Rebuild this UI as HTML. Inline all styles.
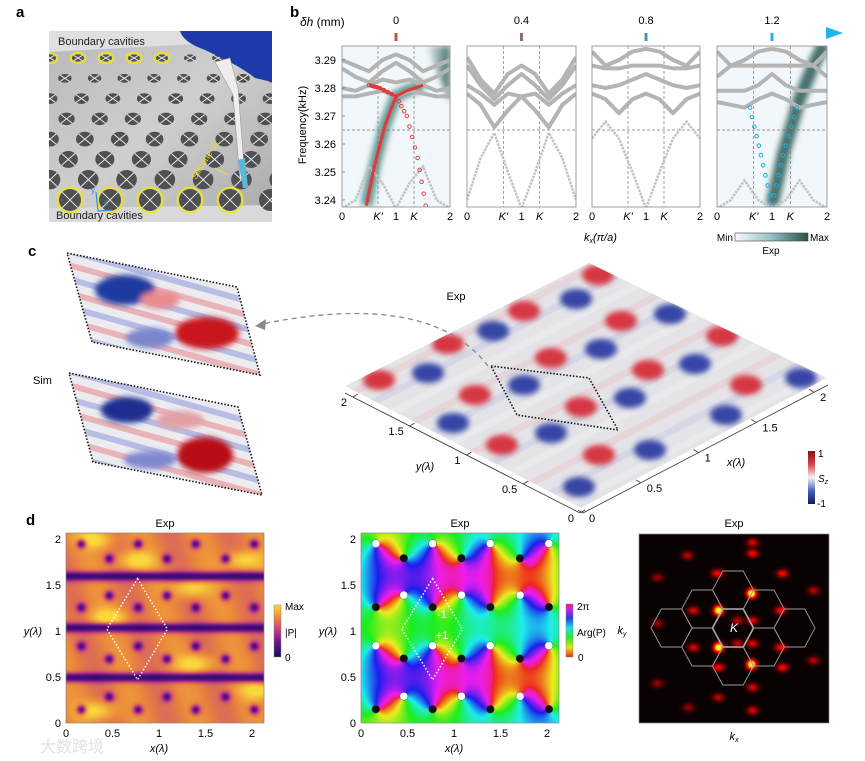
<!DOCTYPE html>
<html><head><meta charset="utf-8"><style>
html,body{margin:0;padding:0;background:#fff;}
#root{position:relative;width:865px;height:761px;overflow:hidden;font-family:"Liberation Sans",Arial,sans-serif;}
canvas{position:absolute;}
svg{position:absolute;left:0;top:0;}
text{font-family:"Liberation Sans",Arial,sans-serif;}
</style></head><body>
<div id="root">
<canvas id="cvAmp" width="198" height="190" style="left:66px;top:533px"></canvas>
<canvas id="cvArg" width="198" height="190" style="left:361px;top:533px"></canvas>
<canvas id="cvFt" width="190" height="189" style="left:639px;top:534px"></canvas>
<svg id="svg" width="865" height="761" xmlns="http://www.w3.org/2000/svg">
<defs>
<filter id="blur3" x="-50%" y="-50%" width="200%" height="200%"><feGaussianBlur stdDeviation="3"/></filter>
<filter id="blur5" x="-50%" y="-50%" width="200%" height="200%"><feGaussianBlur stdDeviation="5"/></filter>
<clipPath id="photoClip"><rect x="49" y="31" width="223" height="191"/></clipPath>
<clipPath id="surfClip"><polygon points="345,386 589,263 827,378 581,508"/></clipPath>
<clipPath id="simA"><polygon points="67,253 237,287 260,375 92,342"/></clipPath>
<clipPath id="simB"><polygon points="69,373 238,407 262,495 93,462"/></clipPath>
<linearGradient id="dhGrad" x1="0" x2="1" y1="0" y2="0"><stop offset="0" stop-color="#dc4b4b"/><stop offset="0.4" stop-color="#8a6a86"/><stop offset="0.7" stop-color="#4e8fb3"/><stop offset="1" stop-color="#1fb4ea"/></linearGradient>
<linearGradient id="expGrad" x1="0" x2="1"><stop offset="0" stop-color="#f6fbfd"/><stop offset="0.5" stop-color="#8fc3c3"/><stop offset="1" stop-color="#2c4e4a"/></linearGradient>
<linearGradient id="szGrad" x1="0" x2="0" y1="0" y2="1"><stop offset="0" stop-color="#8e0c16"/><stop offset="0.25" stop-color="#d8424a"/><stop offset="0.5" stop-color="#f4f4f4"/><stop offset="0.75" stop-color="#4a62b8"/><stop offset="1" stop-color="#0e1b5c"/></linearGradient>
<linearGradient id="ampGrad" x1="0" x2="0" y1="1" y2="0"><stop offset="0" stop-color="#140a5a"/><stop offset="0.3" stop-color="#6e148c"/><stop offset="0.55" stop-color="#c84678"/><stop offset="0.75" stop-color="#eb873c"/><stop offset="1" stop-color="#fad73c"/></linearGradient>
<linearGradient id="argGrad" x1="0" x2="0" y1="1" y2="0"><stop offset="0" stop-color="#e8281e"/><stop offset="0.18" stop-color="#e8e21e"/><stop offset="0.36" stop-color="#2ee81e"/><stop offset="0.55" stop-color="#1ee0e8"/><stop offset="0.73" stop-color="#1e40e8"/><stop offset="0.9" stop-color="#d21ee8"/><stop offset="1" stop-color="#e81e6a"/></linearGradient>
<linearGradient id="tealCorner" x1="0" x2="1" y1="0" y2="0"><stop offset="0" stop-color="#2f5e5a" stop-opacity="0"/><stop offset="1" stop-color="#2f5e5a" stop-opacity="0.9"/></linearGradient>
<linearGradient id="plateGrad" x1="0" x2="1" y1="0" y2="1"><stop offset="0" stop-color="#b8b8ba"/><stop offset="0.5" stop-color="#cfcfd0"/><stop offset="1" stop-color="#a9a9ab"/></linearGradient>
</defs>

<text x="16" y="17" font-size="15" font-weight="bold">a</text>
<text x="290" y="17" font-size="15" font-weight="bold">b</text>
<text x="28" y="256" font-size="15" font-weight="bold">c</text>
<text x="26" y="525" font-size="15" font-weight="bold">d</text>

<g id="photo" clip-path="url(#photoClip)">
<rect x="49" y="31" width="223" height="191" fill="url(#plateGrad)"/>
<polygon points="49,31 272,31 272,40 49,52" fill="#dedfe0"/>
<polygon points="49,208 272,205 272,222 49,222" fill="#d9d9da"/>
<g id="holes"></g>
<path d="M180,31 L272,31 L272,82 L255,78 C240,66 222,58 205,50 C192,45 183,40 180,31Z" fill="#1d3aa8"/>
<polygon points="215,62 230,58 238,88 245,178 240,180 233,95" fill="#eeeeee" stroke="#999" stroke-width="0.6"/>
<polygon points="238,160 245,158 248,188 243,188" fill="#58b8d8"/>
</g>
<text x="58" y="45" font-size="11" fill="#222">Boundary cavities</text>
<text x="56" y="219" font-size="11" fill="#222">Boundary cavities</text>
<text x="196" y="180" font-size="9" fill="#f0e020" transform="rotate(-58 196 180)">Silicone oil</text>
<line x1="215" y1="168" x2="228" y2="175" stroke="#f0e020" stroke-width="1"/>
<g stroke="#2a8ee8" stroke-width="1.2" fill="#2a8ee8">
<line x1="98" y1="211" x2="96" y2="192"/><line x1="98" y1="211" x2="112" y2="210"/>
<text x="91" y="193" font-size="8" stroke="none">y</text><text x="104" y="205" font-size="8" stroke="none">x</text>
</g>

<g id="panelB">
<line x1="345" y1="33" x2="828" y2="33" stroke="url(#dhGrad)" stroke-width="3"/>
<polygon points="826,27 843,33 826,39" fill="#1fb4ea"/>
<text x="300" y="26" font-size="12"><tspan font-style="italic">δh</tspan> (mm)</text>
<g id="bPlots"></g>
<text x="306" y="125" font-size="11" text-anchor="middle" transform="rotate(-90 306 125)">Frequency(kHz)</text>
<text x="584" y="241" font-size="11" font-style="italic">k<tspan font-size="7" dy="2">x</tspan><tspan dy="-2">(π/a)</tspan></text>
<text x="733" y="241" font-size="10" text-anchor="end">Min</text>
<rect x="735" y="233" width="73" height="8" fill="url(#expGrad)" stroke="#444" stroke-width="0.6"/>
<text x="810" y="241" font-size="10">Max</text>
<text x="771" y="254" font-size="10" text-anchor="middle">Exp</text>
</g>

<g id="panelC">
<g clip-path="url(#surfClip)">
<polygon points="345,386 589,263 827,378 581,508" fill="#e4e4e8"/>
<g id="surfStripes" opacity="0.55"></g>
<g id="surfBlobs" filter="url(#blur3)"></g>
</g>
<polygon points="491,366 589,378 618,430 517,415" fill="none" stroke="#111" stroke-width="1.6" stroke-dasharray="1.5,1.8"/>
<path d="M488,366 Q430,290 262,324" fill="none" stroke="#888" stroke-width="1.3" stroke-dasharray="5,4"/>
<polygon points="255,326 266,319 265,330" fill="#888"/>
<text x="456" y="300" font-size="11" text-anchor="middle">Exp</text>
<line x1="345" y1="393" x2="580" y2="513" stroke="#333" stroke-width="0.8"/>
<line x1="583" y1="513" x2="828" y2="385" stroke="#333" stroke-width="0.8"/>
<g id="surfTicks" font-size="11"></g>
<text x="425" y="470" font-size="11" font-style="italic" text-anchor="middle">y(λ)</text>
<text x="736" y="466" font-size="11" font-style="italic" text-anchor="middle">x(λ)</text>
<rect x="808" y="451" width="7" height="53" fill="url(#szGrad)"/>
<text x="818" y="457" font-size="10">1</text>
<text x="818" y="482" font-size="10" font-style="italic">S<tspan font-size="7" dy="2">z</tspan></text>
<text x="817" y="507" font-size="10">-1</text>
<g clip-path="url(#simA)">
<polygon points="67,253 237,287 260,375 92,342" fill="#ececf0"/>
<g id="simAStripes"></g>
<g filter="url(#blur3)"><ellipse cx="125" cy="290" rx="30" ry="15" fill="#1e3aa0"/><ellipse cx="207" cy="333" rx="32" ry="16" fill="#c8141e"/><ellipse cx="160" cy="300" rx="20" ry="9" fill="#e88a8e"/><ellipse cx="150" cy="338" rx="24" ry="10" fill="#7a86cc"/></g>
</g>
<polygon points="67,253 237,287 260,375 92,342" fill="none" stroke="#111" stroke-width="1.6" stroke-dasharray="1.5,1.8"/>
<g clip-path="url(#simB)">
<polygon points="69,373 238,407 262,495 93,462" fill="#ececf0"/>
<g id="simBStripes"></g>
<g filter="url(#blur3)"><ellipse cx="127" cy="410" rx="26" ry="13" fill="#1a2f90"/><ellipse cx="205" cy="455" rx="28" ry="18" fill="#b81018"/><ellipse cx="180" cy="420" rx="24" ry="9" fill="#e2a0a4"/><ellipse cx="150" cy="460" rx="26" ry="9" fill="#7e88d0"/></g>
</g>
<polygon points="69,373 238,407 262,495 93,462" fill="none" stroke="#111" stroke-width="1.6" stroke-dasharray="1.5,1.8"/>
<text x="33" y="384" font-size="11">Sim</text>
</g>

<g id="panelD"></g>
</svg>
</div>
<script>
const kSamples = [0, 0.25, 0.5, 0.75, 1, 1.25, 1.5, 1.75, 2];
const dhTicks = ["0", "0.4", "0.8", "1.2"];
const freqTicks = [3.24, 3.25, 3.26, 3.27, 3.28, 3.29];
const kTickVals = [0, 0.6667, 1, 1.3333, 2];
const kTickLabels = ["0", "K'", "1", "K", "2"];
const bandsP1 = [
 [3.290,3.288,3.286,3.290,3.292,3.290,3.286,3.288,3.290],
 [3.287,3.284,3.282,3.286,3.289,3.286,3.282,3.284,3.287],
 [3.280,3.279,3.281,3.283,3.282,3.283,3.281,3.279,3.280],
 [3.277,3.277,3.278,3.279,3.277,3.279,3.278,3.277,3.277]];
const lowP1 = [3.237,3.240,3.252,3.246,3.237,3.246,3.252,3.240,3.237];
const bandsP2 = [
 [3.291,3.283,3.278,3.285,3.288,3.285,3.278,3.283,3.291],
 [3.288,3.281,3.276,3.281,3.285,3.281,3.276,3.281,3.288],
 [3.281,3.278,3.274,3.278,3.277,3.278,3.274,3.278,3.281],
 [3.278,3.274,3.266,3.272,3.277,3.272,3.266,3.274,3.278]];
const lowP2 = [3.240,3.255,3.264,3.250,3.237,3.250,3.264,3.255,3.240];
const bandsP3 = [
 [3.293,3.288,3.290,3.293,3.294,3.293,3.290,3.288,3.293],
 [3.288,3.287,3.287,3.288,3.288,3.288,3.287,3.287,3.288],
 [3.281,3.280,3.281,3.283,3.285,3.283,3.281,3.280,3.281],
 [3.278,3.276,3.271,3.276,3.278,3.276,3.271,3.276,3.278]];
const lowP3 = [3.262,3.268,3.262,3.250,3.237,3.250,3.262,3.268,3.262];
const bandsP4 = [
 [3.293,3.288,3.290,3.293,3.294,3.293,3.290,3.288,3.293],
 [3.284,3.288,3.288,3.288,3.288,3.288,3.288,3.288,3.284],
 [3.279,3.279,3.279,3.281,3.285,3.281,3.279,3.279,3.279],
 [3.275,3.274,3.273,3.276,3.278,3.276,3.273,3.274,3.275]];
const lowP4 = [3.237,3.240,3.247,3.240,3.237,3.240,3.247,3.240,3.237];
const redK1 = [0.45,0.6,0.8,1.0,1.2,1.5];
const redF1 = [3.238,3.252,3.267,3.277,3.279,3.281];
const redK2 = [0.5,0.7,1.0,1.2,1.4,1.55];
const redF2 = [3.281,3.280,3.277,3.270,3.255,3.238];
const blueK = [0.6,0.8,1.0,1.2,1.45];
const blueF = [3.273,3.256,3.238,3.256,3.273];
const tealK = [1.0,1.2,1.5,1.75,1.95];
const tealF = [3.238,3.256,3.276,3.288,3.296];

const NS = "http://www.w3.org/2000/svg";
function mk(tag, attrs, parent){const e=document.createElementNS(NS,tag);for(const k in attrs)e.setAttribute(k,attrs[k]);if(parent)parent.appendChild(e);return e;}

(function(){
 const g=document.getElementById('holes');
 for(let i=0;i<8;i++){
  const t=i/7, y=58+t*142, r=6+t*5, ry=r*(0.6+0.4*t), dx=28+t*12;
  const off=(i%2)*dx/2;
  for(let x=50+off;x<285;x+=dx){
   const yellow=(i===0&&x<190)||(i===7&&x<260);
   const e=mk('ellipse',{cx:x,cy:y,rx:r,ry:ry,fill:'#505052'},g);
   
   
   mk('line',{x1:x-r*0.7,y1:y-ry*0.7,x2:x+r*0.7,y2:y+ry*0.7,stroke:'#e8e8e8','stroke-width':1},g);
   mk('line',{x1:x-r*0.7,y1:y+ry*0.7,x2:x+r*0.7,y2:y-ry*0.7,stroke:'#e8e8e8','stroke-width':1},g);
   if(yellow){
    const c=mk('ellipse',{cx:x,cy:y,rx:r+1.5,ry:ry+1.5,fill:'none',stroke:'#f2e31a','stroke-width':1.8},g);
    
    
   }
  }
 }
})();

const plots=[{x0:342,x1:450},{x0:467,x1:576},{x0:592,x1:700},{x0:717,x1:827}];
const bandSets=[bandsP1,bandsP2,bandsP3,bandsP4];
const lowSets=[lowP1,lowP2,lowP3,lowP4];
const TOP=46,BOT=207;
function fy(f){return 200-(f-3.24)*2800;}
function kx(p,k){return p.x0+k/2*(p.x1-p.x0);}
function interp(ks,fs,n){const out=[];for(let i=0;i<ks.length-1;i++){for(let j=0;j<n;j++){const t=j/n;out.push([ks[i]+(ks[i+1]-ks[i])*t,fs[i]+(fs[i+1]-fs[i])*t]);}}out.push([ks[ks.length-1],fs[fs.length-1]]);return out;}
const bG=document.getElementById('bPlots');
plots.forEach((p,pi)=>{
 const clipId='bclip'+pi;
 const cp=mk('clipPath',{id:clipId},document.querySelector('defs'));
 mk('rect',{x:p.x0,y:TOP,width:p.x1-p.x0,height:BOT-TOP},cp);
 const g=mk('g',{'clip-path':'url(#'+clipId+')'},bG);
 
 
 mk('rect',{x:p.x0,y:TOP,width:p.x1-p.x0,height:BOT-TOP,fill:(pi===0||pi===3)?'#f1f7fa':'#fff'},g);
 if(pi===0){
  mk('polyline',{points:interp(redK1,redF1,1).map(q=>kx(p,q[0])+','+fy(q[1])).join(' '),fill:'none',stroke:'#2f6e6a','stroke-width':12,opacity:0.7,filter:'url(#blur3)'},g);
  mk('polygon',{points:`${kx(p,1.55)},${TOP} ${p.x1},${TOP} ${p.x1},${fy(3.275)}`,fill:'url(#tealCorner)',filter:'url(#blur3)'},g);
 }
 if(pi===3){
  mk('polyline',{points:tealK.map((k,i)=>kx(p,k)+','+fy(tealF[i])).join(' '),fill:'none',stroke:'#2a5a56','stroke-width':13,opacity:0.85,filter:'url(#blur3)'},g);
 }
 [0.6667,1.3333].forEach(k=>mk('line',{x1:kx(p,k),x2:kx(p,k),y1:TOP,y2:BOT,stroke:'#777','stroke-width':0.7,'stroke-dasharray':'3,2'},g));
 mk('line',{x1:p.x0,x2:p.x1,y1:fy(3.265),y2:fy(3.265),stroke:'#777','stroke-width':0.7,'stroke-dasharray':'3,2'},g);
 bandSets[pi].forEach((b,bi)=>{
  const pl=mk('polyline',{points:kSamples.map((k,i)=>kx(p,k)+','+fy(b[i])).join(' '),fill:'none',stroke:'#b4b4b4','stroke-width':4,'stroke-linejoin':'round'},g);
  
  
 });
 const lw=mk('polyline',{points:kSamples.map((k,i)=>kx(p,k)+','+fy(lowSets[pi][i])).join(' '),fill:'none',stroke:'#c2c2c2','stroke-width':2.5,'stroke-dasharray':'2.5,1'},g);
 
 
 if(pi===0){
  const r1=mk('polyline',{points:redK1.map((k,i)=>kx(p,k)+','+fy(redF1[i])).join(' '),fill:'none',stroke:'#e03a3a','stroke-width':3},g);
  
  
  interp(redK2,redF2,4).forEach(q=>{mk('circle',{cx:kx(p,q[0]),cy:fy(q[1]),r:1.8,fill:'none',stroke:'#e03a3a','stroke-width':0.9},g);});
  mk('polyline',{points:redK2.slice(0,3).map((k,i)=>kx(p,k)+','+fy(redF2[i])).join(' '),fill:'none',stroke:'#e03a3a','stroke-width':3},g);
 }
 if(pi===3){
  interp(blueK,blueF,5).forEach(q=>{mk('circle',{cx:kx(p,q[0]),cy:fy(q[1]),r:1.8,fill:'none',stroke:'#1eaee0','stroke-width':1},g);});
 }
 const fr=mk('rect',{x:p.x0,y:TOP,width:p.x1-p.x0,height:BOT-TOP,fill:'none',stroke:'#888','stroke-width':0.8},bG);
 
 
 kTickVals.forEach((k,i)=>{
  const t=mk('text',{x:kx(p,k),y:220,'font-size':11,'text-anchor':'middle','font-style':(i===1||i===3)?'italic':'normal'},bG);
  t.textContent=kTickLabels[i];
  
  
 });
 const cx=kx(p,1);
 const cols=['#d24a4a','#8a6a86','#4e8fb3','#1fb4ea'];
 mk('line',{x1:cx,x2:cx,y1:33,y2:41,stroke:cols[pi],'stroke-width':3},bG);
 const dt=mk('text',{x:cx,y:24,'font-size':11,'text-anchor':'middle'},bG);
 dt.textContent=dhTicks[pi];
 
 
});
freqTicks.forEach(f=>{
 const t=mk('text',{x:336,y:fy(f)+4,'font-size':11,'text-anchor':'end'},bG);
 t.textContent=f.toFixed(2);
 
 
 mk('line',{x1:342,x2:345,y1:fy(f),y2:fy(f),stroke:'#666','stroke-width':0.7},bG);
});

const redBlobX=[598,524,621,722,448,551,379,648,475,581,502,599,746];
const redBlobY=[275,311,321,336,344,358,380,370,395,407,445,455,385];
const blueBlobX=[576,670,493,601,428,695,801,524,630,726,453,551,650,579];
const blueBlobY=[299,314,331,349,373,364,378,385,398,415,423,433,450,487];
const surfYTicks=["0","0.5","1","1.5","2"];
const surfXTicks=["0","0.5","1","1.5","2"];
(function(){
 const sb=document.getElementById('surfBlobs');
 const ss=document.getElementById('surfStripes');
 for(let i=-10;i<14;i++){
  const c=i%3===0?'#eac0c4':(i%3===1?'#c0c6e6':'#f6f6f6');
  mk('line',{x1:300+i*20,y1:420+i*10,x2:800+i*20,y2:160+i*10,stroke:c,'stroke-width':7,opacity:0.7},ss);
 }
 redBlobX.forEach((x,i)=>{const e=mk('ellipse',{cx:x,cy:redBlobY[i],rx:16,ry:10,fill:'#d42630',opacity:0.9},sb);});
 blueBlobX.forEach((x,i)=>{const e=mk('ellipse',{cx:x,cy:blueBlobY[i],rx:16,ry:10,fill:'#23339e',opacity:0.9},sb);});
 const st=document.getElementById('surfTicks');
 surfYTicks.forEach((lab,i)=>{const v=i*0.5;const x=580+(345-580)*v/2.07, y=513+(393-513)*v/2.07;
  mk('line',{x1:x,y1:y,x2:x+5,y2:y-3,stroke:'#333','stroke-width':0.8},st);
  const t=mk('text',{x:x-6,y:y+9,'text-anchor':'end'},st);t.textContent=lab;});
 surfXTicks.forEach((lab,i)=>{const v=i*0.5;const x=583+(828-583)*v/2.12, y=513+(385-513)*v/2.12;
  mk('line',{x1:x,y1:y,x2:x-5,y2:y-3,stroke:'#333','stroke-width':0.8},st);
  const t=mk('text',{x:x+6,y:y+9,'text-anchor':'start'},st);t.textContent=lab;});
 [['simAStripes',253],['simBStripes',373]].forEach(([id,y0])=>{
  const g=document.getElementById(id);
  for(let i=-4;i<10;i++){const c=i%2?'#e9a6aa':'#aab2e2';
   mk('line',{x1:40,y1:y0+i*14-10,x2:290,y2:y0+i*14+60,stroke:c,'stroke-width':6,opacity:0.8},g);}
 });
})();

const dotX=[0.16,0.77,1.39,2.02, 0.46,1.08,1.71, 0.46,1.08,1.71, 0.16,0.77,1.39,2.02, 0.16,0.77,1.39,2.02, 0.46,1.08,1.71, 0.46,1.08,1.71, 0.16,0.77,1.39,2.02];
const dotY=[1.95,1.95,1.95,1.95, 1.79,1.79,1.79, 1.39,1.39,1.39, 1.26,1.26,1.26,1.26, 0.84,0.84,0.84,0.84, 0.70,0.70,0.70, 0.29,0.29,0.29, 0.15,0.15,0.15,0.15];
const dotCharge=[1,1,1,1, -1,-1,-1, 1,1,1, -1,-1,-1,-1, 1,1,1,1, -1,-1,-1, 1,1,1, -1,-1,-1,-1];
const brightX=[0.30,0.75,1.90,1.34,1.39,0.32,2.07,0.45];
const brightY=[2.00,1.77,1.77,1.47,0.65,0.14,0.36,1.15];
const darkLinesY=[0.50,1.04,1.60];
const axisTicks=[0,0.5,1,1.5,2];
const axisTickLabels=["0","0.5","1","1.5","2"];
const ftSpotX=[751,718,718,751, 752,717,782,687,780,780,693,693,752,752,718,782,752,752,718,688,813,813,657,657,657,737,737,752];
const ftSpotY=[593,610,647,664, 553,573,573,555,610,647,610,647,620,643,667,667,687,710,697,707,590,660,623,683,577,620,643,542];
const ftSpotA=[1,1,1,1, .35,.35,.35,.25,.35,.35,.3,.3,.3,.3,.35,.35,.3,.3,.25,.2,.25,.25,.2,.2,.2,.25,.25,.3];

const W=198,H=190;
function px2x(i){return i/93;} function px2y(j){return (190-j)/92;}
function lerpStops(stops,t){t=Math.max(0,Math.min(1,t));for(let i=0;i<stops.length-1;i++){if(t<=stops[i+1][0]){const a=stops[i],b=stops[i+1],u=(t-a[0])/(b[0]-a[0]);return [a[1]+(b[1]-a[1])*u,a[2]+(b[2]-a[2])*u,a[3]+(b[3]-a[3])*u];}}const s=stops[stops.length-1];return [s[1],s[2],s[3]];}
const plasma=[[0,20,10,90],[0.3,110,20,140],[0.55,200,70,120],[0.75,235,135,60],[1,250,215,60]];
(function(){
 const ctx=document.getElementById('cvAmp').getContext('2d');
 const img=ctx.createImageData(W,H);
 for(let j=0;j<H;j++)for(let i=0;i<W;i++){
  const x=px2x(i),y=px2y(j);
  let a=0.73+0.06*Math.sin(x*10+y*3);
  for(let k=0;k<brightX.length;k++){const dx=(x-brightX[k])/0.2,dy=(y-brightY[k])/0.1;a+=0.3*Math.exp(-dx*dx-dy*dy);}
  for(const yl of darkLinesY){const d=(y-yl)/0.05;a*=1-0.85*Math.exp(-d*d);}
  for(let k=0;k<dotX.length;k++){const dx=x-dotX[k],dy=y-dotY[k];a*=1-0.75*Math.exp(-(dx*dx+dy*dy)/0.0025);}
  const c=lerpStops(plasma,a);const o=(j*W+i)*4;img.data[o]=c[0];img.data[o+1]=c[1];img.data[o+2]=c[2];img.data[o+3]=255;
 }
 ctx.putImageData(img,0,0);
})();
function hsl2rgb(h,s,l){const f=n=>{const k=(n+h/30)%12;const a=s*Math.min(l,1-l);return 255*(l-a*Math.max(-1,Math.min(k-3,9-k,1)));};return [f(0),f(8),f(4)];}
(function(){
 const ctx=document.getElementById('cvArg').getContext('2d');
 const img=ctx.createImageData(W,H);
 for(let j=0;j<H;j++)for(let i=0;i<W;i++){
  const x=px2x(i),y=px2y(j);
  let ph=2.0*x+0.5;
  for(let k=0;k<dotX.length;k++)ph+=dotCharge[k]*Math.atan2(y-dotY[k],x-dotX[k]);
  let t=((ph%(2*Math.PI))+2*Math.PI)%(2*Math.PI)/(2*Math.PI);
  const c=hsl2rgb(t*330,0.85,0.52);const o=(j*W+i)*4;img.data[o]=c[0];img.data[o+1]=c[1];img.data[o+2]=c[2];img.data[o+3]=255;
 }
 ctx.putImageData(img,0,0);
})();
(function(){
 const ctx=document.getElementById('cvFt').getContext('2d');
 const w=190,h=189;const img=ctx.createImageData(w,h);
 for(let j=0;j<h;j++)for(let i=0;i<w;i++){
  const X=639+i,Y=534+j;let I=0;
  for(let k=0;k<ftSpotX.length;k++){const dx=(X-ftSpotX[k])/(k<4?4.5:5.5),dy=(Y-ftSpotY[k])/(k<4?4.5:4);I+=ftSpotA[k]*Math.exp(-dx*dx-dy*dy);}
  const r=Math.min(1,I*3),g=Math.min(1,Math.max(0,I*3-1.2)),b=Math.max(0,I*3-2.4);
  const o=(j*w+i)*4;img.data[o]=8+247*r;img.data[o+1]=2+245*g;img.data[o+2]=2+200*b;img.data[o+3]=255;
 }
 ctx.putImageData(img,0,0);
})();
(function(){
 const g=document.getElementById('panelD');
 [[66,'amp'],[361,'arg']].forEach(([x0,tag])=>{
  const X=v=>x0+v*93, Y=v=>723-v*92;
  mk('rect',{x:x0,y:533,width:W,height:H,fill:'none',stroke:'#888','stroke-width':0.7},g);
  const tt=mk('text',{x:x0+99,y:527,'font-size':11,'text-anchor':'middle'},g);tt.textContent='Exp';
  
  
  axisTicks.forEach((v,i)=>{
   const a=mk('text',{x:X(v),y:737,'font-size':11,'text-anchor':'middle'},g);a.textContent=axisTickLabels[i];
   
   
   const b=mk('text',{x:x0-5,y:Y(v)+4,'font-size':11,'text-anchor':'end'},g);b.textContent=axisTickLabels[i];
   
   
  });
  const xl=mk('text',{x:x0+93,y:752,'font-size':11,'font-style':'italic','text-anchor':'middle'},g);xl.textContent='x(λ)';
  
  
  const yl=mk('text',{x:x0-24,y:Y(1)+4,'font-size':11,'font-style':'italic','text-anchor':'end'},g);yl.textContent='y(λ)';
  
  
  mk('polygon',{points:`${X(0.77)},${Y(1.57)} ${X(1.09)},${Y(1.02)} ${X(0.77)},${Y(0.47)} ${X(0.44)},${Y(1.02)}`,fill:'none',stroke:'#fff','stroke-width':1.5,'stroke-dasharray':'1.5,2'},g);
  if(tag==='arg'){
   dotX.forEach((dx,k)=>{const c=mk('circle',{cx:X(dx),cy:Y(dotY[k]),r:4,fill:dotCharge[k]>0?'#fff':'#111',stroke:'#555','stroke-width':0.5},g);
    
    });
   const m1=mk('text',{x:442,y:618,'font-size':11,fill:'#fff','text-anchor':'middle'},g);m1.textContent='-1';
   
   const p1=mk('text',{x:442,y:639,'font-size':11,fill:'#fff','text-anchor':'middle'},g);p1.textContent='+1';
   
  }
 });
 mk('rect',{x:274,y:605,width:7,height:52,fill:'url(#ampGrad)',stroke:'#888','stroke-width':0.5},g);
 [['Max',285,610],['|P|',285,636],['0',285,661]].forEach(([s,x,y])=>{const t=mk('text',{x:x,y:y,'font-size':10},g);t.textContent=s;});
 mk('rect',{x:566,y:604,width:7,height:53,fill:'url(#argGrad)',stroke:'#888','stroke-width':0.5},g);
 [['2π',577,610],['Arg(P)',577,636],['0',578,661]].forEach(([s,x,y])=>{const t=mk('text',{x:x,y:y,'font-size':10},g);t.textContent=s;});
 mk('rect',{x:639,y:534,width:190,height:189,fill:'none',stroke:'#888','stroke-width':0.7},g);
 const ft=mk('text',{x:734,y:527,'font-size':11,'text-anchor':'middle'},g);ft.textContent='Exp';
 
 const R=20.5,h=19;
 const hexC=[[0,0],[0,-2],[0,2],[-1,-1],[-1,1],[1,-1],[1,1],[-2,0],[2,0]];
 hexC.forEach(([a,b])=>{const cx=733+a*1.5*R, cy=628+b*h;
  const pts=[[R,0],[R/2,h],[-R/2,h],[-R,0],[-R/2,-h],[R/2,-h]].map(q=>(cx+q[0])+','+(cy+q[1])).join(' ');
  const p=mk('polygon',{points:pts,fill:'none',stroke:(a===0&&b===0)?'#ddd':'#999','stroke-width':(a===0&&b===0)?1.5:0.9},g);
  });
 const kt=mk('text',{x:734,y:632,'font-size':12,'font-style':'italic',fill:'#fff','text-anchor':'middle'},g);kt.textContent='K';
 
 const kyl=mk('text',{x:622,y:634,'font-size':11,'font-style':'italic','text-anchor':'middle'},g);kyl.innerHTML='k<tspan font-size="7" dy="2">y</tspan>';
 
 const kxl=mk('text',{x:734,y:740,'font-size':11,'font-style':'italic','text-anchor':'middle'},g);kxl.innerHTML='k<tspan font-size="7" dy="2">x</tspan>';
 
 const wm=mk('text',{x:40,y:752,'font-size':16,fill:'#e2e2e2','font-family':'"Liberation Sans","Noto Sans CJK SC",sans-serif'},g);wm.textContent='大数跨境';
 
})();
</script>
</body></html>
